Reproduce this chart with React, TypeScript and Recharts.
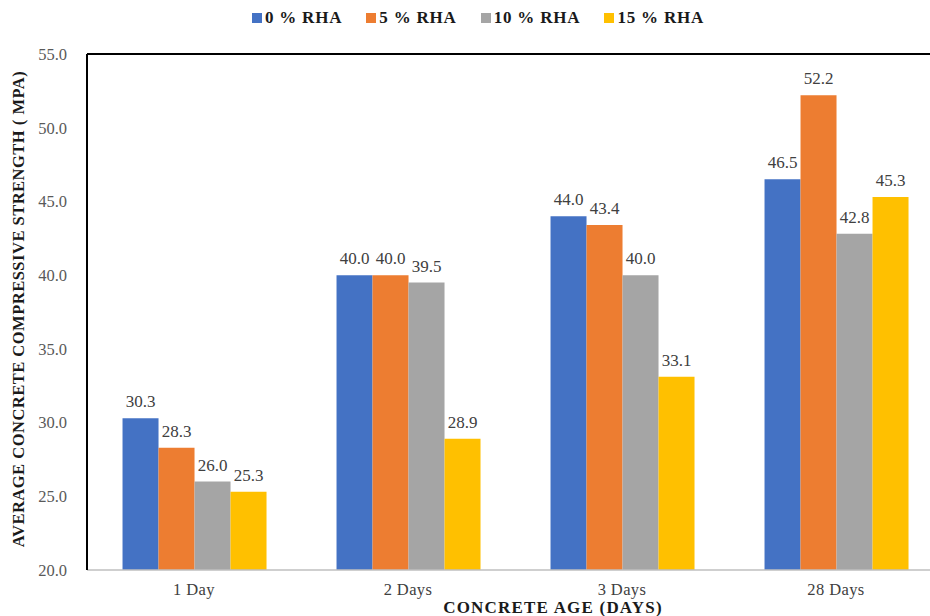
import { BarChart, Bar, XAxis, YAxis, LabelList, ReferenceLine } from "recharts";

const ages = ["1 Day", "2 Days", "3 Days", "28 Days"];
const rha0 = [30.3, 40.0, 44.0, 46.5];
const rha5 = [28.3, 40.0, 43.4, 52.2];
const rha10 = [26.0, 39.5, 40.0, 42.8];
const rha15 = [25.3, 28.9, 33.1, 45.3];
const yTicks = [20, 25, 30, 35, 40, 45, 50, 55];

const seriesList = [
  { key: "rha0", name: "0 % RHA", color: "#4472C4" },
  { key: "rha5", name: "5 % RHA", color: "#ED7D31" },
  { key: "rha10", name: "10 % RHA", color: "#A5A5A5" },
  { key: "rha15", name: "15 % RHA", color: "#FFC000" },
];

const data = ages.map((age, i) => ({
  age,
  rha0: rha0[i],
  rha5: rha5[i],
  rha10: rha10[i],
  rha15: rha15[i],
}));

const FONT = "'Liberation Serif', 'Times New Roman', serif";

function LegendRow() {
  return (
    <div style={{ position: "absolute", top: 8, left: 0, width: 930, display: "flex", justifyContent: "center", gap: 24, fontFamily: FONT, fontWeight: 700, fontSize: 17, letterSpacing: 0.8, color: "#1a1a1a", paddingLeft: 26, boxSizing: "border-box" }}>
      {seriesList.map(s => (
        <div key={s.key} style={{ display: "flex", alignItems: "center", gap: 3 }}>
          <span style={{ display: "inline-block", width: 10, height: 10, background: s.color }} />
          <span>{s.name}</span>
        </div>
      ))}
    </div>
  );
}

export default function App() {
  return (
    <div style={{ position: "fixed", top: 0, left: 0, width: 930, height: 616, overflow: "hidden", background: "#fff", fontFamily: FONT }}>
      <LegendRow />
      <BarChart
        width={943}
        height={616}
        data={data}
        margin={{ top: 54, right: 0, bottom: 16, left: 0 }}
        barCategoryGap="16.6%"
        barGap={0}
        style={{ fontFamily: FONT }}
      >
        <XAxis
          dataKey="age"
          height={30}
          axisLine={{ stroke: "#bfbfbf", strokeWidth: 1.5 }}
          tickLine={false}
          tick={{ fontFamily: FONT, fontSize: 16.5, letterSpacing: 0.4, fill: "#404040" }}
          tickMargin={7}
          label={{
            content: () => (
              <text x={553} y={613} textAnchor="middle" fontFamily={FONT} fontWeight={700} fontSize={17} letterSpacing={1.2} fill="#1a1a1a">
                CONCRETE AGE (DAYS)
              </text>
            ),
          }}
        />
        <YAxis
          width={87}
          domain={[20, 55]}
          ticks={yTicks}
          allowDataOverflow
          axisLine={{ stroke: "#000", strokeWidth: 2 }}
          tickLine={false}
          tickFormatter={(v: number) => v.toFixed(1)}
          tick={{ fontFamily: FONT, fontSize: 16.5, fill: "#595959" }}
          tickMargin={14}
          label={{
            content: () => (
              <text x={24} y={309} transform="rotate(-90 24 309)" textAnchor="middle" fontFamily={FONT} fontWeight={700} fontSize={16.5} letterSpacing={0.5} fill="#1a1a1a">
                AVERAGE CONCRETE COMPRESSIVE STRENGTH ( MPA)
              </text>
            ),
          }}
        />
        <ReferenceLine y={55} stroke="#000" strokeWidth={2} />
        {seriesList.map(s => (
          <Bar key={s.key} dataKey={s.key} name={s.name} fill={s.color} isAnimationActive={false}>
            <LabelList
              dataKey={s.key}
              position="top"
              offset={11}
              formatter={(v: number) => v.toFixed(1)}
              style={{ fontFamily: FONT, fontSize: 17, fill: "#404040" }}
            />
          </Bar>
        ))}
      </BarChart>
    </div>
  );
}
